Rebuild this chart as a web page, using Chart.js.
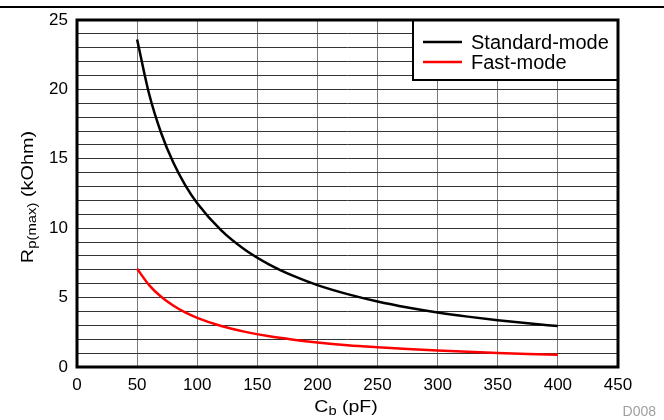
<!DOCTYPE html>
<html><head><meta charset="utf-8">
<script src="https://cdn.jsdelivr.net/npm/chart.js@4/dist/chart.umd.min.js"></script>
<style>html,body{margin:0;padding:0;background:#fff}#wrap{width:664px;height:420px;position:relative}</style>
</head><body><div id="wrap"><canvas id="c" width="664" height="420"></canvas></div>
<script>
const capacitance = [50,60,70,80,90,100,120,140,160,180,200,225,250,275,300,325,350,375,400];
const standardMode = [23.60,19.67,16.86,14.75,13.11,11.80,9.84,8.43,7.38,6.56,5.90,5.25,4.72,4.29,3.93,3.63,3.37,3.15,2.95];
const fastMode = [7.08,5.90,5.06,4.43,3.93,3.54,2.95,2.53,2.21,1.97,1.77,1.57,1.42,1.29,1.18,1.09,1.01,0.94,0.89];
const seriesNames = ['Standard-mode','Fast-mode'];
const seriesColors = ['#000000','#ff0000'];
const FONT = '"Liberation Sans", Arial, sans-serif';

const toPts = v => capacitance.map((x,i)=>({x:x,y:v[i]}));

function subText(ctx, main, sub, rest, cx, by, mainSize, subSize, sx){
  ctx.font=mainSize+'px '+FONT; const w1=ctx.measureText(main).width, w3=ctx.measureText(rest).width;
  ctx.font=subSize+'px '+FONT; const w2=ctx.measureText(sub).width;
  ctx.save();
  ctx.translate(cx,by);
  ctx.scale(sx,1);
  let x=-(w1+w2+w3)/2;
  ctx.font=mainSize+'px '+FONT; ctx.fillText(main,x,0);
  ctx.font=subSize+'px '+FONT; ctx.fillText(sub,x+w1,3);
  ctx.font=mainSize+'px '+FONT; ctx.fillText(rest,x+w1+w2,0);
  ctx.restore();
}

const deco = {
  id:'deco',
  afterDraw(chart){
    const ctx = chart.ctx, a = chart.chartArea;
    ctx.save();
    ctx.fillStyle='#000';
    ctx.fillRect(0,6,664,2);
    const lx = 413, ly = a.top, lw = a.right-lx, lh = 60;
    ctx.fillStyle='#fff';
    ctx.fillRect(lx,ly,lw,lh);
    ctx.strokeStyle='#000';
    ctx.lineWidth=2;
    ctx.strokeRect(lx,ly,lw,lh);
    ctx.font='20px '+FONT;
    ctx.textBaseline='middle';
    ctx.textAlign='left';
    chart.data.datasets.forEach((d,i)=>{
      const y = ly+22+i*20;
      ctx.strokeStyle=d.borderColor;
      ctx.lineWidth=2.5;
      ctx.beginPath();ctx.moveTo(423,y);ctx.lineTo(462,y);ctx.stroke();
      ctx.fillStyle='#000';
      ctx.fillText(d.label,471,y+1);
    });
    ctx.strokeStyle='#000';
    ctx.lineWidth=3;
    ctx.strokeRect(a.left,a.top,a.right-a.left,a.bottom-a.top);
    ctx.fillStyle='#000';
    ctx.textBaseline='alphabetic';
    ctx.textAlign='left';
    subText(ctx,'C','b',' (pF)',346,412,16,12,1.22);
    ctx.save();
    ctx.translate(33,197);
    ctx.rotate(-Math.PI/2);
    subText(ctx,'R','p(max)',' (kOhm)',0,0,16,12,1.24);
    ctx.restore();
    ctx.fillStyle='#a0a0a0';
    ctx.font='14px '+FONT;
    ctx.textAlign='right';
    ctx.fillText('D008',656,416);
    ctx.restore();
  }
};

new Chart(document.getElementById('c'),{
  type:'scatter',
  data:{datasets:[
    {label:seriesNames[0],data:toPts(standardMode),showLine:true,borderColor:seriesColors[0],backgroundColor:seriesColors[0],borderWidth:2.5,pointRadius:0,tension:0.4,cubicInterpolationMode:'monotone'},
    {label:seriesNames[1],data:toPts(fastMode),showLine:true,borderColor:seriesColors[1],backgroundColor:seriesColors[1],borderWidth:2.5,pointRadius:0,tension:0.4,cubicInterpolationMode:'monotone'}
  ]},
  options:{
    responsive:false,animation:false,
    layout:{padding:{left:0,right:46,top:20,bottom:0}},
    plugins:{legend:{display:false},tooltip:{enabled:false}},
    scales:{
      x:{type:'linear',min:0,max:450,
        afterFit(s){s.height=53;},
        ticks:{stepSize:50,color:'#000',font:{family:FONT,size:17},padding:8,maxRotation:0,autoSkip:false},
        grid:{color:'#7a7a7a',lineWidth:1,drawTicks:false},
        border:{display:false}},
      y:{type:'linear',min:0,max:25,
        afterFit(s){s.width=77;},
        ticks:{stepSize:1,autoSkip:false,color:'#000',font:{family:FONT,size:17},padding:9,
          callback:v=>(v%5===0?v:'')},
        grid:{color:'#333',lineWidth:1,drawTicks:false},
        border:{display:false}}
    }
  },
  plugins:[deco]
});
</script></body></html>
